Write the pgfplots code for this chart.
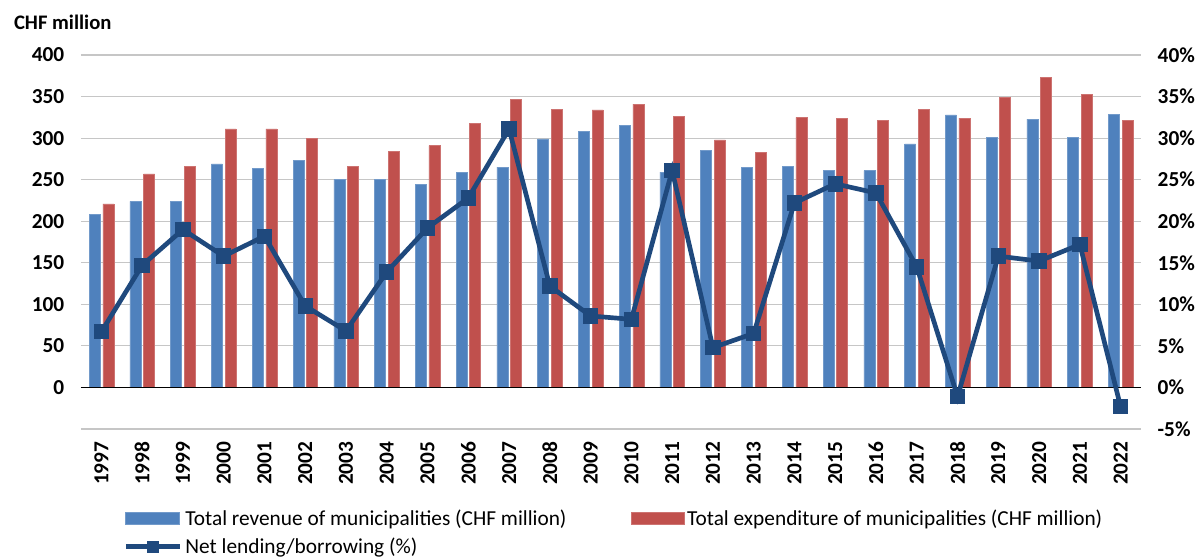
\documentclass[border=0pt]{standalone}
\usepackage{fontspec}
\setmainfont{Carlito}
\usepackage{pgfplots}
\pgfplotsset{compat=1.18}
\definecolor{revblue}{HTML}{4F81BD}
\definecolor{expred}{HTML}{C0504D}
\definecolor{netblue}{HTML}{1F497D}

% revenue / expenditure in CHF million, net lending in %
\pgfplotstableread{
x year rev exp net
0  1997 208 221 6.7
1  1998 224 257 14.7
2  1999 224 266 19.0
3  2000 269 311 15.8
4  2001 264 311 18.2
5  2002 273 300 9.8
6  2003 250 266 6.8
7  2004 250 284 13.9
8  2005 244 291 19.2
9  2006 259 318 22.8
10 2007 265 347 31.1
11 2008 299 335 12.2
12 2009 308 334 8.6
13 2010 315 341 8.2
14 2011 259 326 26.1
15 2012 285 298 4.8
16 2013 265 283 6.5
17 2014 266 325 22.2
18 2015 261 324 24.5
19 2016 261 321 23.4
20 2017 293 335 14.5
21 2018 328 324 -1.1
22 2019 301 349 15.8
23 2020 323 373 15.2
24 2021 301 353 17.2
25 2022 329 321 -2.3
}\data

\begin{document}
\begin{tikzpicture}
% 1 px of the reference = 0.75pt
\pgfplotsset{
  common/.style={
    at={(60.75pt,-321.75pt)}, anchor=south west,
    scale only axis, width=795pt, height=280.5pt,
    xmin=-0.5, xmax=25.5,
    axis line style={draw=none},
    major tick length=0pt,
    /pgf/number format/assume math mode=true,
    ticklabel style={font=\bfseries\fontsize{16}{19}\selectfont},
  },
}
\begin{axis}[common,
  ymin=-50, ymax=400,
  ytick={0,50,...,400},
  extra y ticks={-50}, extra y tick labels={},
  extra y tick style={grid=major},
  ymajorgrids, grid style={gray!45, line width=0.8pt},
  yticklabel style={xshift=-9pt},
  xtick={0,...,25},
  xticklabels={1997,1998,1999,2000,2001,2002,2003,2004,2005,2006,2007,2008,2009,2010,2011,2012,2013,2014,2015,2016,2017,2018,2019,2020,2021,2022},
  xticklabel style={rotate=90, anchor=east, xshift=-6pt},
  ybar, bar width=0.27,
  legend columns=2, legend cell align=left,
  legend style={at={(rel axis cs:0.036,-0.2)}, anchor=north west,
    draw=none, fill=none, font=\fontsize{16}{19}\selectfont,
    row sep=4pt, /tikz/column 2/.style={column sep=46pt},
    /tikz/every odd column/.append style={column sep=0pt}},
  legend image code/.code={\fill[#1] (0pt,-4.5pt) rectangle (40pt,4.5pt);},
]
\addplot[fill=revblue, draw=revblue!80!white, bar shift=-0.165] table[x=x,y=rev]{\data};
\addlegendentry{Total revenue of municipalities (CHF million)}
\addplot[fill=expred, draw=expred!80!white, bar shift=0.17] table[x=x,y=exp]{\data};
\addlegendentry{Total expenditure of municipalities (CHF million)}
\addlegendimage{legend image code/.code={
    \draw[netblue, line width=3.5pt] (0pt,0pt) -- (41pt,0pt);
    \fill[netblue] (16.5pt,-4pt) rectangle (24.5pt,4pt);}}
\addlegendentry{Net lending/borrowing (\%)}
\draw[black, line width=1pt] (axis cs:-0.5,0) -- (axis cs:25.5,0);
\end{axis}
\begin{axis}[common,
  ymin=-5, ymax=40,
  ytick={-5,0,...,40},
  yticklabel={\pgfmathprintnumber{\tick}\%},
  yticklabel style={xshift=9pt},
  axis y line*=right,
  axis x line=none,
]
\addplot[netblue, line width=3.5pt, mark=square*, mark size=4pt,
  mark options={solid}] table[x=x,y=net]{\data};
\end{axis}
\node[anchor=west, font=\bfseries\fontsize{15.5}{18}\selectfont] at (7pt,-16.5pt) {CHF million};
\pgfresetboundingbox
\path (0pt,0pt) rectangle (900pt,-418.5pt);
\end{tikzpicture}
\end{document}
